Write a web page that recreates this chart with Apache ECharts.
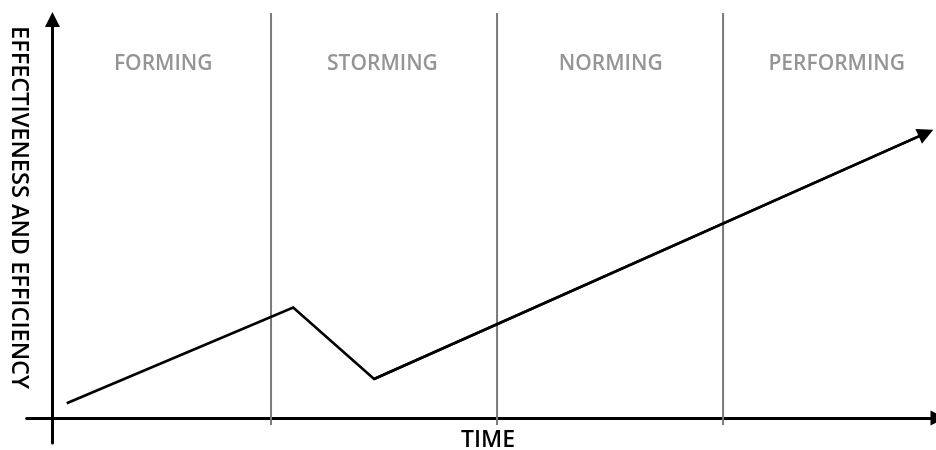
<!DOCTYPE html>
<html>
<head>
<meta charset="utf-8">
<script src="https://cdn.jsdelivr.net/npm/echarts@6/dist/echarts.min.js"></script>
<style>html,body{margin:0;padding:0;background:#fff;}#c{width:936px;height:450px;}</style>
</head>
<body>
<div id="c"></div>
<script>
// Data
const stages = ['FORMING', 'STORMING', 'NORMING', 'PERFORMING'];
const stageLabelX = [4.9, 14.6, 24.7, 34.7];
const stageBoundaries = [9.67, 19.67, 29.67];
const timeValues = [0.63, 10.65, 14.23, 38.65];
const effectivenessValues = [3.7, 27.7, 9.8, 71.5];
const xAxisTitle = 'TIME';
const yAxisTitle = 'EFFECTIVENESS AND EFFICIENCY';

const FONT = '"Open Sans", "DejaVu Sans", sans-serif';
const curve = timeValues.map((t, i) => [t, effectivenessValues[i]]);
const last = curve.length - 1;

const boundarySeries = stageBoundaries.map(b => ({
  type: 'line',
  data: [[b, -1.76], [b, 101.6]],
  clip: false,
  silent: true,
  showSymbol: false,
  symbol: 'none',
  lineStyle: { color: '#7a7a7a', width: 2 },
  z: 1
}));

const option = {
  animation: false,
  grid: { left: 26.7, right: -2, top: 19.5, bottom: 7, containLabel: false, outerBoundsMode: 'none' },
  xAxis: {
    type: 'value',
    min: -1.14,
    max: 39.18,
    axisLine: { show: true, onZero: true, symbol: ['none', 'triangle'], symbolSize: [15, 15],
      lineStyle: { color: '#000', width: 3 } },
    axisTick: { show: false },
    axisLabel: { show: false },
    splitLine: { show: false }
  },
  yAxis: {
    type: 'value',
    min: -6.27,
    max: 100,
    axisLine: { show: true, onZero: true, symbol: ['none', 'triangle'], symbolSize: [15, 15],
      lineStyle: { color: '#000', width: 3 } },
    axisTick: { show: false },
    axisLabel: { show: false },
    splitLine: { show: false }
  },
  graphic: [
    {
      type: 'text',
      x: 488, y: 440,
      style: { text: xAxisTitle, fontFamily: FONT, fontSize: 23, fontWeight: 600, fill: '#000',
        align: 'center', verticalAlign: 'middle' },
      silent: true
    },
    {
      type: 'text',
      x: 19, y: 207.5,
      rotation: -Math.PI / 2,
      style: { text: yAxisTitle, fontFamily: FONT, fontSize: 23.5, fontWeight: 600, fill: '#000',
        align: 'center', verticalAlign: 'middle' },
      silent: true
    }
  ],
  series: [
    ...boundarySeries,
    {
      type: 'line',
      data: curve,
      showSymbol: false,
      symbol: 'none',
      clip: false,
      lineStyle: { color: '#000', width: 2.6, join: 'miter' },
      z: 3,
      markLine: {
        silent: true,
        symbol: ['none', 'triangle'],
        symbolSize: [16, 16],
        label: { show: false },
        lineStyle: { color: '#000', width: 2.6, type: 'solid' },
        data: [[{ coord: curve[last - 1] }, { coord: curve[last] }]]
      }
    },
    {
      type: 'scatter',
      symbolSize: 0,
      silent: true,
      data: stages.map((s, i) => ({ name: s, value: [stageLabelX[i], 88.8] })),
      label: {
        show: true,
        position: 'inside',
        formatter: p => p.name,
        fontFamily: FONT,
        fontSize: 21,
        fontWeight: 600,
        color: '#7a7a7a'
      },
      z: 4
    }
  ]
};

const chart = echarts.init(document.getElementById('c'), null, { renderer: 'canvas' });
chart.setOption(option);
</script>
</body>
</html>
